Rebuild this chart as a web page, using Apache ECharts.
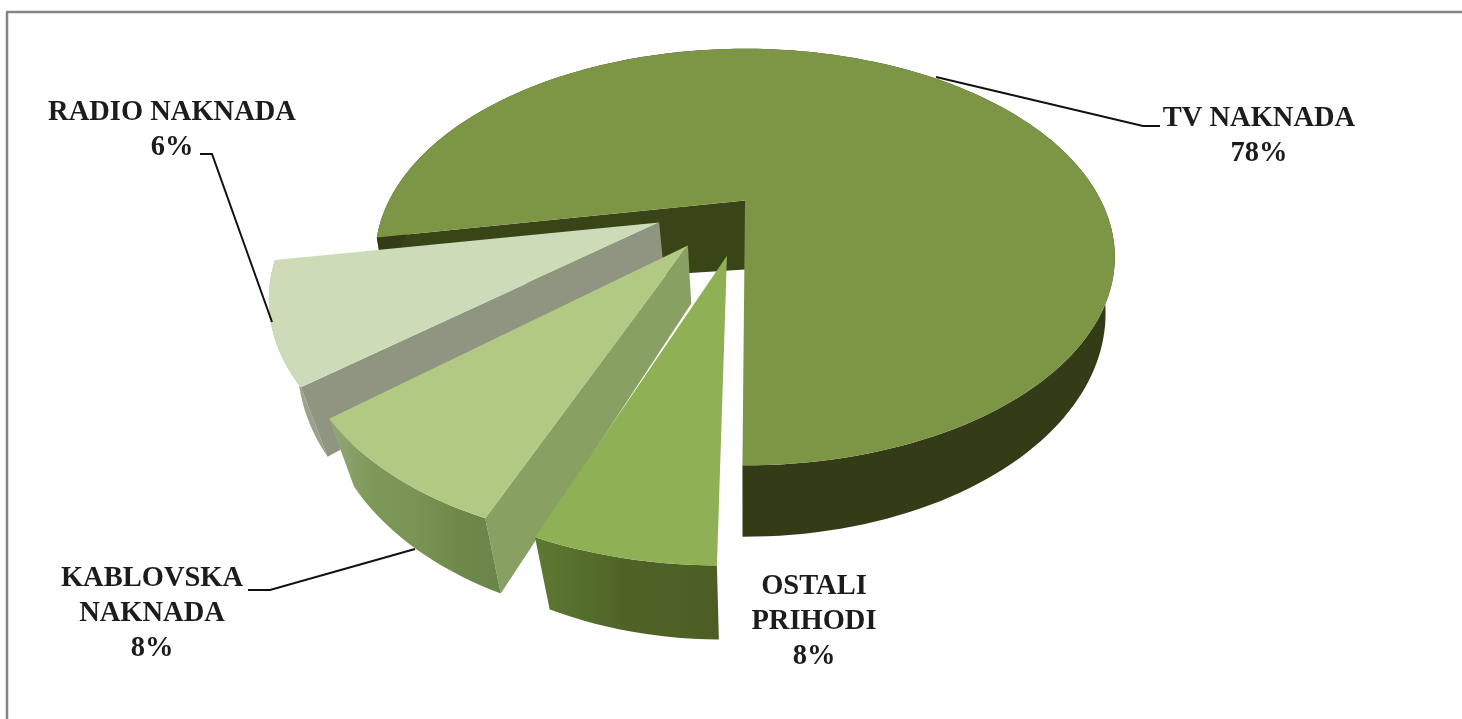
<!DOCTYPE html>
<html><head><meta charset="utf-8">
<style>html,body{margin:0;padding:0;background:#fff}#c{width:1462px;height:719px}</style>
<script src="https://cdn.jsdelivr.net/npm/echarts@6/dist/echarts.min.js"></script>
</head><body><div id="c"></div>
<script>
// Data (clockwise, as the pie was built)
const categories = ['TV NAKNADA', 'OSTALI\nPRIHODI', 'KABLOVSKA\nNAKNADA', 'RADIO NAKNADA'];
const values = [78, 8, 8, 6];

// View of the tilted pie
const view = {cx: 745, cy: 200.6, R: 356, a: 193, k: 0.271};
const firstAngle = 79.5;
// How much of the nominal sweep each slice shows in the tilted picture
const apparentSweep = [1, 0.72, 0.97, 1.435];
// Exploded offset of each slice on the disc, its radius, wall shape
const offU = [0, -0.047, -0.151, -0.234];
const offV = [0, 0.265, 0.219, 0.11];
const radius = [1, 0.985, 0.985, 1];
const wallInset = [0.975, 0.93, 0.94, 0.94];
const wallDepth = [52, 49, 52, 55];
const apexDepth = [69, 52, 58, 52];
const paintOrder = [0, 3, 2, 1];
const topColors = ['#7d9645', '#8fb054', '#b2c984', '#cddcb8'];
const radialColors = ['#3a4517', '#4f6226', '#89a063', '#8f9580'];
const outerStops = [
  ['#333c17', '#333c17'],
  ['#5f7933', '#566e2c', '#4f6226', '#4e6126', '#4b5d24'],
  ['#93a878', '#7d9858', '#7a9455', '#6f894b', '#6b8548'],
  ['#a7ae9a', '#a3ac94', '#9da68c', '#98a088', '#98a088']
];
const leaders = [
  [[936, 77], [1143, 126], [1160, 126]],
  null,
  [[415, 549], [270, 590], [248, 590]],
  [[272, 322], [212, 154], [200, 154]]
];
const labelAt = [[1259, 136], [814, 622], [152, 614], [172, 130]];

let running = firstAngle;
const spans = values.map((v, i) => {
  const s = running, e = s + v * 3.6 * apparentSweep[i];
  running = e % 360;
  return [s, e];
});

function project(u, v) {
  const w = 1 - view.k * v;
  return [view.cx + view.R * u / w, view.cy + view.a * v / w];
}
function lower(u, v, i) {
  const p = project(u, v), w = 1 - view.k * v;
  return [view.cx + (p[0] - view.cx) * wallInset[i], p[1] + wallDepth[i] / w];
}

function renderItem(params, api) {
  const i = api.value(1), sp = spans[i];
  const u0 = offU[i], v0 = offV[i], r = radius[i];
  const rimTop = [], rimLow = [];
  const n = Math.ceil((sp[1] - sp[0]) / 1.5);
  for (let j = 0; j <= n; j++) {
    const t = (sp[0] + (sp[1] - sp[0]) * j / n) * Math.PI / 180;
    const u = u0 - r * Math.sin(t), v = v0 + r * Math.cos(t);
    rimTop.push(project(u, v));
    rimLow.push(lower(u, v, i));
  }
  const apex = project(u0, v0);
  const apexLow = [view.cx + (apex[0] - view.cx) * wallInset[i], apex[1] + apexDepth[i]];
  const z = paintOrder[i] * 10;
  const s = outerStops[i];
  const kids = [];
  // the cut wall facing the viewer; a slice cut straight towards the viewer shows none
  if (sp[0] > 5) {
    kids.push({type: 'polygon', z2: z + 1, shape: {points: [apex, rimTop[0], rimLow[0], apexLow]}, style: {fill: radialColors[i]}});
  }
  kids.push(
    {type: 'polygon', z2: z + 2, shape: {points: rimTop.concat(rimLow.slice().reverse())},
      style: {fill: {type: 'linear', x: 0, y: 0, x2: 1, y2: 0, colorStops: s.map((c, q) => ({offset: q / (s.length - 1), color: c}))}}},
    {type: 'polygon', z2: z + 3, shape: {points: [apex].concat(rimTop)}, style: {fill: topColors[i]}}
  );
  if (leaders[i]) kids.push({type: 'polyline', z2: 60, shape: {points: leaders[i]}, style: {stroke: '#111', lineWidth: 2, fill: null}});
  kids.push({type: 'text', z2: 70, style: {
    x: labelAt[i][0], y: labelAt[i][1], text: categories[i] + '\n' + api.value(0) + '%',
    fill: '#1c1c1c', font: 'bold 28.5px "Liberation Serif"', lineHeight: 35, align: 'center', verticalAlign: 'middle'
  }});
  return {type: 'group', children: kids};
}

const chart = echarts.init(document.getElementById('c'), null, {renderer: 'canvas'});
chart.setOption({
  animation: false,
  backgroundColor: '#fff',
  graphic: [
    {type: 'line', shape: {x1: 6, y1: 12, x2: 1462, y2: 12}, style: {stroke: '#858585', lineWidth: 2.5}},
    {type: 'line', shape: {x1: 7, y1: 12, x2: 7, y2: 719}, style: {stroke: '#858585', lineWidth: 2.5}}
  ],
  series: [{
    type: 'custom', coordinateSystem: 'none', renderItem: renderItem, silent: true,
    data: values.map((v, i) => [v, i])
  }]
});
</script></body></html>
